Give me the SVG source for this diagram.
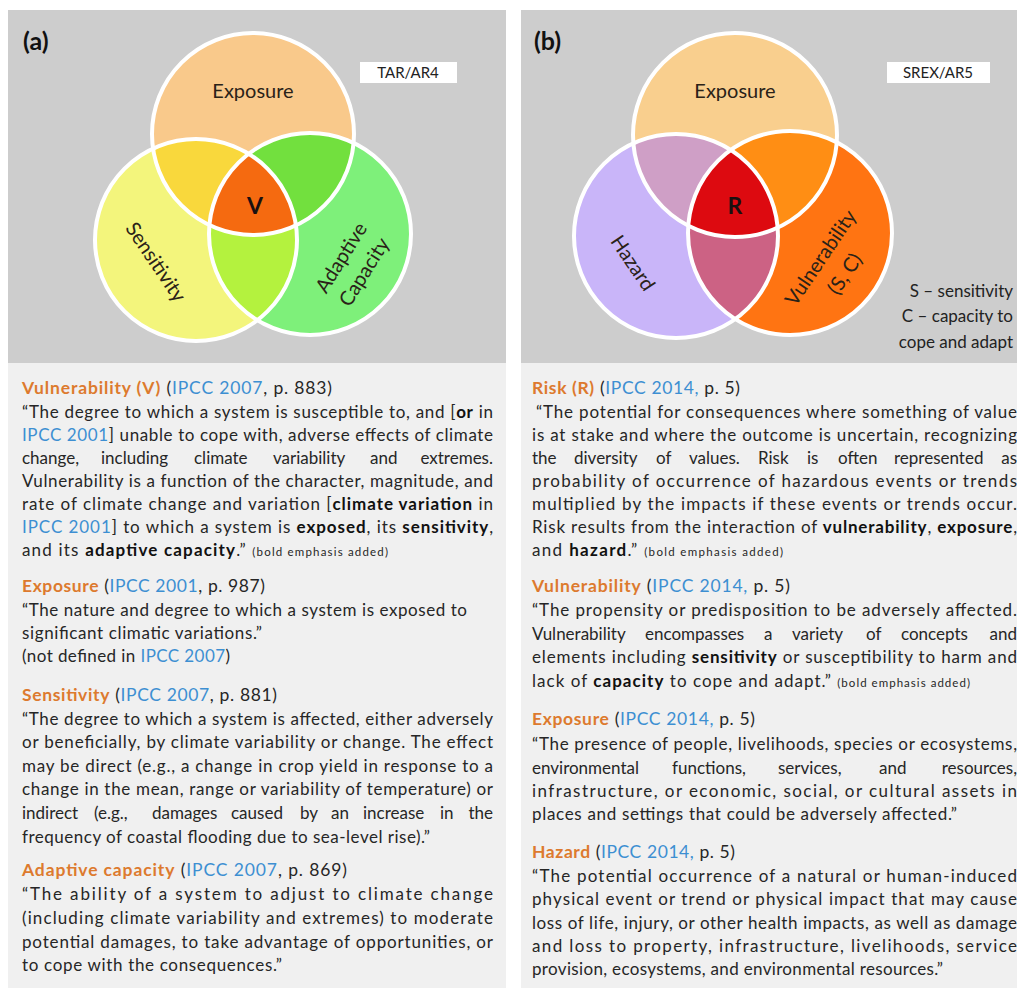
<svg xmlns="http://www.w3.org/2000/svg" width="1017" height="990" viewBox="0 0 1017 990">
<style>
.panel{fill:#cdcdcd}
.tpanel{fill:#f0f0f0}
.ring{fill:none;stroke:#ffffff;stroke-width:4}
.lbl{font-family:Lato,"Liberation Sans",sans-serif;font-size:20px;fill:#2a2218}
.big{font-family:Lato,"Liberation Sans",sans-serif;font-size:25px;font-weight:bold;fill:#111}
.ctr{font-family:Lato,"Liberation Sans",sans-serif;font-size:23px;font-weight:bold;fill:#1a1010;text-anchor:middle}
.tag{font-family:Lato,"Liberation Sans",sans-serif;font-size:15px;fill:#222;text-anchor:middle}
.note{font-family:Lato,"Liberation Sans",sans-serif;font-size:17px;fill:#222;text-anchor:end}
.h{font-family:Lato,"Liberation Sans",sans-serif;font-size:17.5px;fill:#262626}
.t{font-family:Lato,"Liberation Sans",sans-serif;font-size:17px;fill:#262626}
.o{fill:#dd7a2e;font-weight:bold}
.b{fill:#3d8fd2}
.k{font-weight:bold;fill:#111}
.s{font-size:11.5px}
.e{text-anchor:end}
</style>
<defs>
<clipPath id="cEa"><circle cx="253" cy="134" r="101"/></clipPath>
<clipPath id="cSa"><circle cx="196" cy="240" r="101"/></clipPath>
<clipPath id="cEb"><circle cx="735" cy="135" r="102"/></clipPath>
<clipPath id="cHb"><circle cx="676" cy="236" r="102"/></clipPath>
</defs>

<rect class="panel" x="8" y="10" width="498" height="353"/>
<rect class="panel" x="521" y="10" width="496" height="353"/>
<rect class="tpanel" x="8" y="363" width="498" height="625"/>
<rect class="tpanel" x="521" y="363" width="496" height="625"/>

<g id="venn-a">
<circle cx="253" cy="134" r="101" fill="#f9c98b"/>
<circle cx="196" cy="240" r="101" fill="#f3f57c"/>
<circle cx="310" cy="234" r="101" fill="#7ef07a"/>
<g clip-path="url(#cEa)"><circle cx="196" cy="240" r="101" fill="#f9d83c"/><circle cx="310" cy="234" r="101" fill="#72e03e"/></g>
<g clip-path="url(#cSa)"><circle cx="310" cy="234" r="101" fill="#b4f23e"/></g>
<g clip-path="url(#cEa)"><g clip-path="url(#cSa)"><circle cx="310" cy="234" r="101" fill="#f56a10"/></g></g>
<circle class="ring" cx="253" cy="134" r="101"/>
<circle class="ring" cx="196" cy="240" r="101"/>
<circle class="ring" cx="310" cy="234" r="101"/>
</g>

<g id="venn-b">
<circle cx="735" cy="135" r="102" fill="#f9cf8e"/>
<circle cx="676" cy="236" r="102" fill="#c9b5f9"/>
<circle cx="790" cy="233" r="102" fill="#ff7412"/>
<g clip-path="url(#cEb)"><circle cx="676" cy="236" r="102" fill="#cf9fc6"/><circle cx="790" cy="233" r="102" fill="#ff8e14"/></g>
<g clip-path="url(#cHb)"><circle cx="790" cy="233" r="102" fill="#cc6284"/></g>
<g clip-path="url(#cEb)"><g clip-path="url(#cHb)"><circle cx="790" cy="233" r="102" fill="#dd0a10"/></g></g>
<circle class="ring" cx="735" cy="135" r="102"/>
<circle class="ring" cx="676" cy="236" r="102"/>
<circle class="ring" cx="790" cy="233" r="102"/>
</g>

<g id="labels-a">
<text class="big" x="23" y="50">(a)</text>
<rect x="360" y="62" width="97" height="21" fill="#ffffff"/>
<text class="tag" x="408" y="78">TAR/AR4</text>
<text class="lbl" x="253" y="98" text-anchor="middle">Exposure</text>
<text class="ctr" x="255" y="214">V</text>
<g transform="translate(156,262) rotate(56)"><text class="lbl" x="0" y="7" text-anchor="middle">Sensitivity</text></g>
<g transform="translate(353,265) rotate(-58)"><text class="lbl" x="0" y="-7" text-anchor="middle">Adaptive</text><text class="lbl" x="0" y="20" text-anchor="middle">Capacity</text></g>
</g>

<g id="labels-b">
<text class="big" x="534" y="50">(b)</text>
<rect x="887" y="62" width="103" height="21" fill="#ffffff"/>
<text class="tag" x="938" y="78">SREX/AR5</text>
<text class="lbl" x="735" y="98" text-anchor="middle">Exposure</text>
<text class="ctr" x="735" y="214">R</text>
<g transform="translate(633,263) rotate(56)"><text class="lbl" x="0" y="7" text-anchor="middle">Hazard</text></g>
<g transform="translate(833,266) rotate(-56)"><text class="lbl" x="0" y="-8" text-anchor="middle">Vulnerability</text><text class="lbl" x="0" y="21" text-anchor="middle">(S, C)</text></g>
<text class="note" x="1013" y="297">S – sensitivity</text>
<text class="note" x="1013" y="322">C – capacity to</text>
<text class="note" x="1013" y="348">cope and adapt</text>
</g>

<g id="text-a">
<text class="h" x="22" y="394" textLength="310" lengthAdjust="spacing"><tspan class="o">Vulnerability (V)</tspan> (<tspan class="b">IPCC 2007</tspan>, p. 883)</text>
<text class="t" x="22" y="418" textLength="471" lengthAdjust="spacing">“The degree to which a system is susceptible to, and [<tspan class="k">or</tspan> in</text>
<text class="t" x="22" y="441" textLength="471" lengthAdjust="spacing"><tspan class="b">IPCC 2001</tspan>] unable to cope with, adverse effects of climate</text>
<text class="t" y="464"><tspan x="22">change,</tspan><tspan x="101">including</tspan><tspan x="194">climate</tspan><tspan x="273">variability</tspan><tspan x="370">and</tspan></text>
<text class="t e" x="493" y="464">extremes.</text>
<text class="t" x="22" y="487" textLength="471" lengthAdjust="spacing">Vulnerability is a function of the character, magnitude, and</text>
<text class="t" x="22" y="510" textLength="471" lengthAdjust="spacing">rate of climate change and variation [<tspan class="k">climate variation</tspan> in</text>
<text class="t" x="22" y="533" textLength="471" lengthAdjust="spacing"><tspan class="b">IPCC 2001</tspan>] to which a system is <tspan class="k">exposed</tspan>, its <tspan class="k">sensitivity</tspan>,</text>
<text class="t" x="22" y="556" textLength="366" lengthAdjust="spacing">and its <tspan class="k">adaptive capacity</tspan>.” <tspan class="s">(bold emphasis added)</tspan></text>

<text class="h" x="22" y="592" textLength="243" lengthAdjust="spacing"><tspan class="o">Exposure</tspan> (<tspan class="b">IPCC 2001</tspan>, p. 987)</text>
<text class="t" x="22" y="616" textLength="445" lengthAdjust="spacing">“The nature and degree to which a system is exposed to</text>
<text class="t" x="22" y="639" textLength="240" lengthAdjust="spacing">significant climatic variations.”</text>
<text class="t" x="22" y="662" textLength="208" lengthAdjust="spacing">(not defined in <tspan class="b">IPCC 2007</tspan>)</text>

<text class="h" x="22" y="701" textLength="255" lengthAdjust="spacing"><tspan class="o">Sensitivity</tspan> (<tspan class="b">IPCC 2007</tspan>, p. 881)</text>
<text class="t" x="22" y="725" textLength="471" lengthAdjust="spacing">“The degree to which a system is affected, either adversely</text>
<text class="t" x="22" y="748" textLength="471" lengthAdjust="spacing">or beneficially, by climate variability or change. The effect</text>
<text class="t" x="22" y="772" textLength="471" lengthAdjust="spacing">may be direct (e.g., a change in crop yield in response to a</text>
<text class="t" x="22" y="795" textLength="471" lengthAdjust="spacing">change in the mean, range or variability of temperature) or</text>
<text class="t" y="819"><tspan x="22">indirect</tspan><tspan x="94">(e.g.,</tspan><tspan x="152">damages</tspan><tspan x="231">caused</tspan><tspan x="300">by</tspan><tspan x="331">an</tspan><tspan x="363">increase</tspan><tspan x="440">in</tspan></text>
<text class="t e" x="493" y="819">the</text>
<text class="t" x="22" y="843" textLength="408" lengthAdjust="spacing">frequency of coastal flooding due to sea-level rise).”</text>

<text class="h" x="22" y="876" textLength="325" lengthAdjust="spacing"><tspan class="o">Adaptive capacity</tspan> (<tspan class="b">IPCC 2007</tspan>, p. 869)</text>
<text class="t" x="22" y="900" textLength="471" lengthAdjust="spacing">“The ability of a system to adjust to climate change</text>
<text class="t" x="22" y="924" textLength="471" lengthAdjust="spacing">(including climate variability and extremes) to moderate</text>
<text class="t" x="22" y="948" textLength="471" lengthAdjust="spacing">potential damages, to take advantage of opportunities, or</text>
<text class="t" x="22" y="971" textLength="260" lengthAdjust="spacing">to cope with the consequences.”</text>
</g>

<g id="text-b">
<text class="h" x="532" y="394" textLength="208" lengthAdjust="spacing"><tspan class="o">Risk (R)</tspan> (<tspan class="b">IPCC 2014,</tspan> p. 5)</text>
<text class="t" x="536" y="418" textLength="481" lengthAdjust="spacing">“The potential for consequences where something of value</text>
<text class="t" x="532" y="441" textLength="485" lengthAdjust="spacing">is at stake and where the outcome is uncertain, recognizing</text>
<text class="t" y="464"><tspan x="532">the</tspan><tspan x="574">diversity</tspan><tspan x="656">of</tspan><tspan x="689">values.</tspan><tspan x="758">Risk</tspan><tspan x="807">is</tspan><tspan x="838">often</tspan><tspan x="894">represented</tspan></text>
<text class="t e" x="1017" y="464">as</text>
<text class="t" x="532" y="487" textLength="485" lengthAdjust="spacing">probability of occurrence of hazardous events or trends</text>
<text class="t" x="532" y="510" textLength="485" lengthAdjust="spacing">multiplied by the impacts if these events or trends occur.</text>
<text class="t" x="532" y="533" textLength="485" lengthAdjust="spacing">Risk results from the interaction of <tspan class="k">vulnerability</tspan>, <tspan class="k">exposure</tspan>,</text>
<text class="t" x="532" y="556" textLength="251" lengthAdjust="spacing">and <tspan class="k">hazard</tspan>.” <tspan class="s">(bold emphasis added)</tspan></text>

<text class="h" x="532" y="592" textLength="258" lengthAdjust="spacing"><tspan class="o">Vulnerability</tspan> (<tspan class="b">IPCC 2014,</tspan> p. 5)</text>
<text class="t" x="532" y="616" textLength="485" lengthAdjust="spacing">“The propensity or predisposition to be adversely affected.</text>
<text class="t" y="640"><tspan x="532">Vulnerability</tspan><tspan x="645">encompasses</tspan><tspan x="764">a</tspan><tspan x="792">variety</tspan><tspan x="866">of</tspan><tspan x="901">concepts</tspan></text>
<text class="t e" x="1017" y="640">and</text>
<text class="t" x="532" y="663" textLength="485" lengthAdjust="spacing">elements including <tspan class="k">sensitivity</tspan> or susceptibility to harm and</text>
<text class="t" x="532" y="687" textLength="438" lengthAdjust="spacing">lack of <tspan class="k">capacity</tspan> to cope and adapt.” <tspan class="s">(bold emphasis added)</tspan></text>

<text class="h" x="532" y="725" textLength="223" lengthAdjust="spacing"><tspan class="o">Exposure</tspan> (<tspan class="b">IPCC 2014,</tspan> p. 5)</text>
<text class="t" x="532" y="750" textLength="485" lengthAdjust="spacing">“The presence of people, livelihoods, species or ecosystems,</text>
<text class="t" y="774"><tspan x="532">environmental</tspan><tspan x="672">functions,</tspan><tspan x="778">services,</tspan><tspan x="879">and</tspan></text>
<text class="t e" x="1017" y="774">resources,</text>
<text class="t" x="532" y="797" textLength="485" lengthAdjust="spacing">infrastructure, or economic, social, or cultural assets in</text>
<text class="t" x="532" y="820" textLength="425" lengthAdjust="spacing">places and settings that could be adversely affected.”</text>

<text class="h" x="532" y="858" textLength="203" lengthAdjust="spacing"><tspan class="o">Hazard</tspan> (<tspan class="b">IPCC 2014,</tspan> p. 5)</text>
<text class="t" x="532" y="882" textLength="485" lengthAdjust="spacing">“The potential occurrence of a natural or human-induced</text>
<text class="t" x="532" y="905" textLength="485" lengthAdjust="spacing">physical event or trend or physical impact that may cause</text>
<text class="t" x="532" y="929" textLength="485" lengthAdjust="spacing">loss of life, injury, or other health impacts, as well as damage</text>
<text class="t" x="532" y="952" textLength="485" lengthAdjust="spacing">and loss to property, infrastructure, livelihoods, service</text>
<text class="t" x="532" y="975" textLength="411" lengthAdjust="spacing">provision, ecosystems, and environmental resources.”</text>
</g>
</svg>
